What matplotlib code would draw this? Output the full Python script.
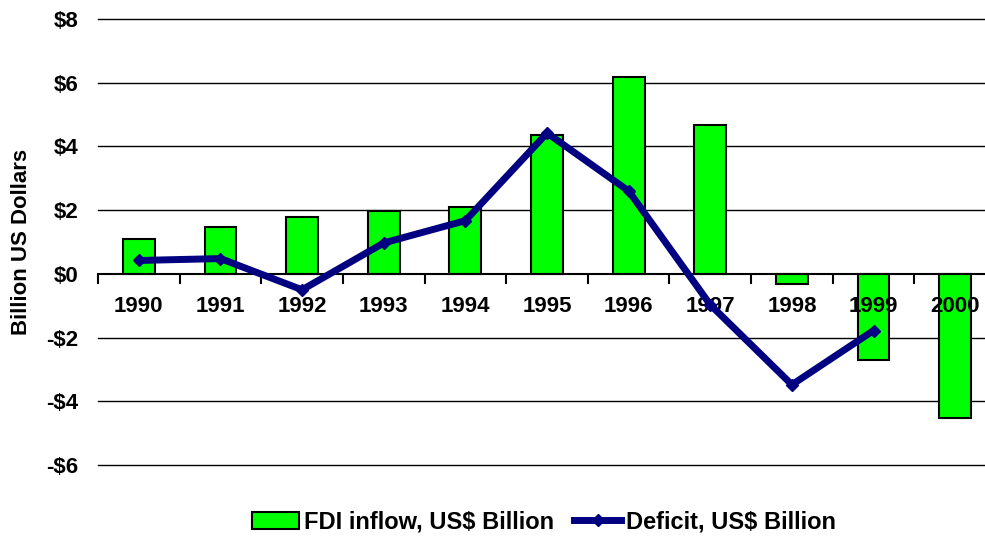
import matplotlib.pyplot as plt
import numpy as np

plt.rcParams['font.family'] = ['Liberation Sans', 'DejaVu Sans']
plt.rcParams['font.weight'] = 'bold'

# values
years = ['1990', '1991', '1992', '1993', '1994', '1995', '1996', '1997', '1998', '1999', '2000']
fdi = [1.1, 1.48, 1.8, 1.98, 2.1, 4.37, 6.19, 4.68, -0.32, -2.7, -4.52]
deficit = [0.42, 0.48, -0.5, 0.97, 1.67, 4.42, 2.6, -0.97, -3.48, -1.78]
yticks = [-6, -4, -2, 0, 2, 4, 6, 8]
ytick_labels = ['-$6', '-$4', '-$2', '$0', '$2', '$4', '$6', '$8']

fig = plt.figure(figsize=(9.85, 5.36), dpi=100)
ax = fig.add_axes([98 / 985, 1 - 465 / 536, 898 / 985, (465 - 19) / 536])

x = np.arange(len(years))
bars = ax.bar(x, fdi, width=0.39, color='#00FF00', edgecolor='black', linewidth=1.5,
              zorder=1, label='FDI inflow, US$ Billion')
line, = ax.plot(x[:len(deficit)], deficit, color='#000080', linewidth=5, marker='D',
                markersize=6, zorder=3, label='Deficit, US$ Billion')

# gridlines behind the bars, tick labels above them
for yv in yticks:
    if yv != 0:
        ax.axhline(yv, color='black', linewidth=1, zorder=0.5, clip_on=False)

ax.set_xlim(-0.5, 10.5)
ax.set_ylim(-6, 8)

for s in ['top', 'right', 'left']:
    ax.spines[s].set_visible(False)
ax.spines['bottom'].set_position(('data', 0))
ax.spines['bottom'].set_linewidth(1.5)

ax.set_xticks(x)
ax.set_xticklabels(years, fontsize=16, fontweight='bold')
ax.set_xticks(np.arange(-0.5, 11, 1), minor=True)
ax.tick_params(axis='x', which='major', length=0, pad=16)
ax.tick_params(axis='x', which='minor', length=7, width=1.5, direction='out')

ax.set_yticks(yticks)
ax.set_yticklabels(ytick_labels, fontsize=16, fontweight='bold')
ax.tick_params(axis='y', length=0, pad=14)

fig.text(22 / 985, 1 - 242 / 536, 'Billion US Dollars', rotation=90,
         ha='center', va='center', fontsize=16, fontweight='bold')

fig.legend(handles=[bars, line], loc='center', bbox_to_anchor=(544 / 985, 1 - 522 / 536),
           ncol=2, frameon=False, prop={'size': 17, 'weight': 'bold'},
           handlelength=2.0, columnspacing=0.85, handletextpad=0.2, borderpad=0)

fig.savefig('out.png', dpi=100)
